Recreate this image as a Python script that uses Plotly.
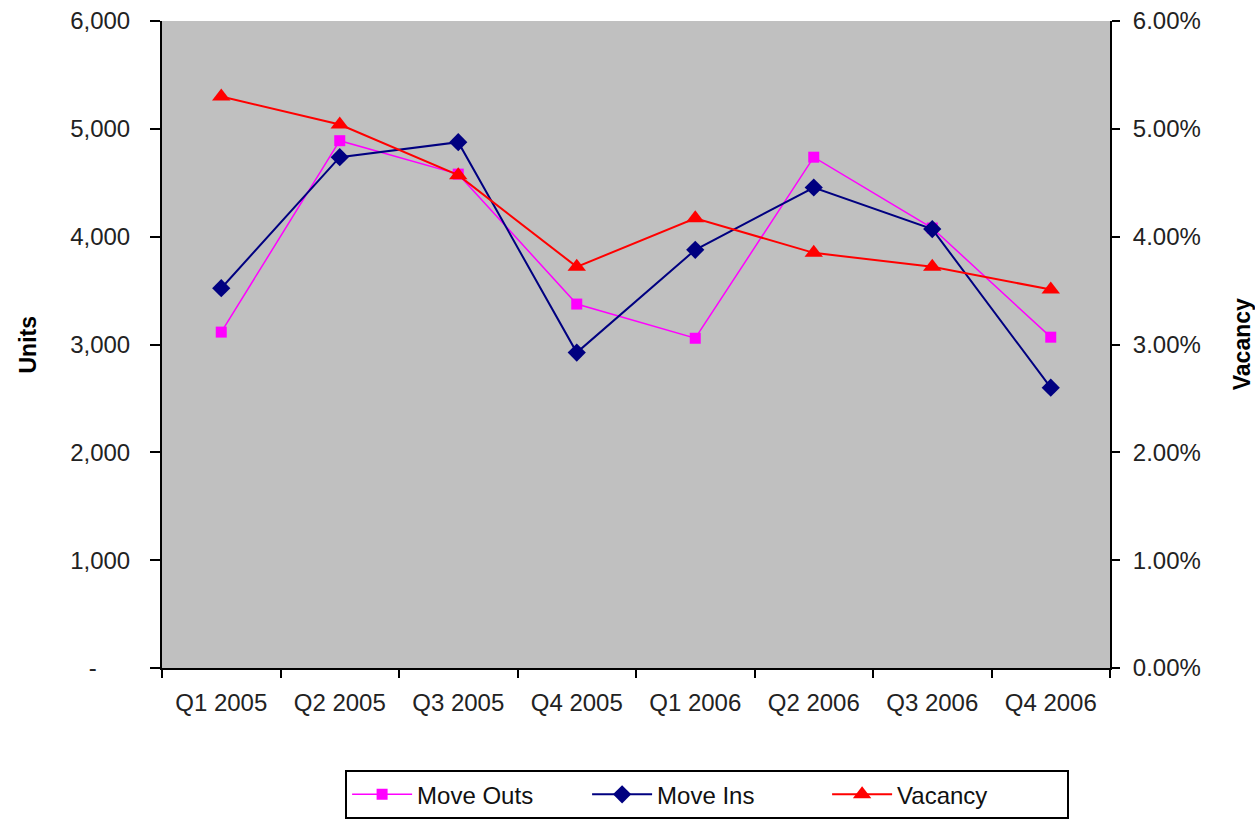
import plotly.graph_objects as go
import numpy as np

# Quarterly apartment activity
quarters = ["Q1 2005", "Q2 2005", "Q3 2005", "Q4 2005",
            "Q1 2006", "Q2 2006", "Q3 2006", "Q4 2006"]
move_outs = [3115, 4890, 4580, 3375, 3058, 4737, 4080, 3068]
move_ins = [3522, 4737, 4876, 2925, 3878, 4456, 4070, 2600]
vacancy = [0.0530, 0.0504, 0.0457, 0.0372, 0.0417, 0.0385, 0.0372, 0.0351]

units_ticks = [0, 1000, 2000, 3000, 4000, 5000, 6000]
units_labels = ["-\u00a0\u00a0\u00a0\u00a0\u00a0", "1,000", "2,000", "3,000",
                "4,000", "5,000", "6,000"]
vacancy_ticks = [0, 0.01, 0.02, 0.03, 0.04, 0.05, 0.06]

FONT = "Liberation Sans, Arial, sans-serif"
TICK_FONT = dict(family=FONT, size=24, color="#222222")

fig = go.Figure()
fig.add_trace(go.Scatter(
    x=quarters, y=move_outs, name="Move Outs", mode="lines+markers",
    line=dict(color="#FF00FF", width=1.5),
    marker=dict(symbol="square", size=11, color="#FF00FF"),
))
fig.add_trace(go.Scatter(
    x=quarters, y=move_ins, name="Move Ins", mode="lines+markers",
    line=dict(color="#000080", width=2),
    marker=dict(symbol="diamond", size=14, color="#000080"),
))
fig.add_trace(go.Scatter(
    x=quarters, y=vacancy, name="Vacancy", mode="lines+markers", yaxis="y2",
    line=dict(color="#FF0000", width=2),
    marker=dict(symbol="triangle-up", size=16, color="#FF0000"),
))

n = len(quarters)
boundaries = list(np.arange(n + 1) - 0.5)

fig.update_layout(
    width=1255, height=828,
    margin=dict(l=162, r=145, t=21, b=160, autoexpand=False),
    paper_bgcolor="white",
    plot_bgcolor="#C0C0C0",
    showlegend=True,
    legend=dict(
        orientation="h", x=0.575, xanchor="center", y=-0.158, yanchor="top",
        font=dict(family=FONT, size=24, color="#111111"),
        bordercolor="black", borderwidth=2, bgcolor="white",
        itemwidth=60, entrywidth=165, entrywidthmode="pixels",
    ),
    xaxis=dict(
        type="category", categoryorder="array", categoryarray=quarters,
        range=[-0.5, n - 0.5], tickson="boundaries",
        ticks="outside", ticklen=8, tickwidth=2, tickcolor="black",
        showline=True, linecolor="black", linewidth=2,
        showgrid=False, zeroline=False, tickfont=TICK_FONT,
        ticklabelstandoff=12,
    ),
    xaxis2=dict(
        overlaying="x", anchor="y", range=[-0.5, n - 0.5],
        tickvals=boundaries, showticklabels=False,
        ticks="inside", ticklen=8, tickwidth=2, tickcolor="black",
        showgrid=False, zeroline=False, showline=False,
    ),
    yaxis=dict(
        range=[0, 6000], tickvals=units_ticks, ticktext=units_labels,
        ticks="outside", ticklen=10, tickwidth=2, tickcolor="black",
        showline=True, linecolor="black", linewidth=2,
        showgrid=False, zeroline=False, tickfont=TICK_FONT,
        ticklabelstandoff=15,
    ),
    yaxis2=dict(
        range=[0, 0.06], tickvals=vacancy_ticks, tickformat=".2%",
        overlaying="y", side="right",
        ticks="outside", ticklen=8, tickwidth=2, tickcolor="black",
        showline=True, linecolor="black", linewidth=2,
        showgrid=False, zeroline=False, tickfont=TICK_FONT,
        ticklabelstandoff=8,
    ),
    yaxis3=dict(
        range=[0, 6000], tickvals=units_ticks, overlaying="y", side="left",
        anchor="x", showticklabels=False,
        ticks="inside", ticklen=6, tickwidth=2, tickcolor="black",
        showgrid=False, zeroline=False, showline=False,
    ),
    yaxis4=dict(
        range=[0, 0.06], tickvals=vacancy_ticks, overlaying="y", side="right",
        anchor="x", showticklabels=False,
        ticks="inside", ticklen=10, tickwidth=2, tickcolor="black",
        showgrid=False, zeroline=False, showline=False,
    ),
    annotations=[
        dict(text="<b>Units</b>", x=-0.1424, y=0.5, xref="paper", yref="paper",
             xanchor="center", yanchor="middle",
             textangle=-90, showarrow=False,
             font=dict(family=FONT, size=23, color="black")),
        dict(text="<b>Vacancy</b>", x=1.139, y=0.5, xref="paper", yref="paper",
             xanchor="center", yanchor="middle",
             textangle=-90, showarrow=False,
             font=dict(family=FONT, size=23, color="black")),
    ],
)

fig.write_html("out.html")
